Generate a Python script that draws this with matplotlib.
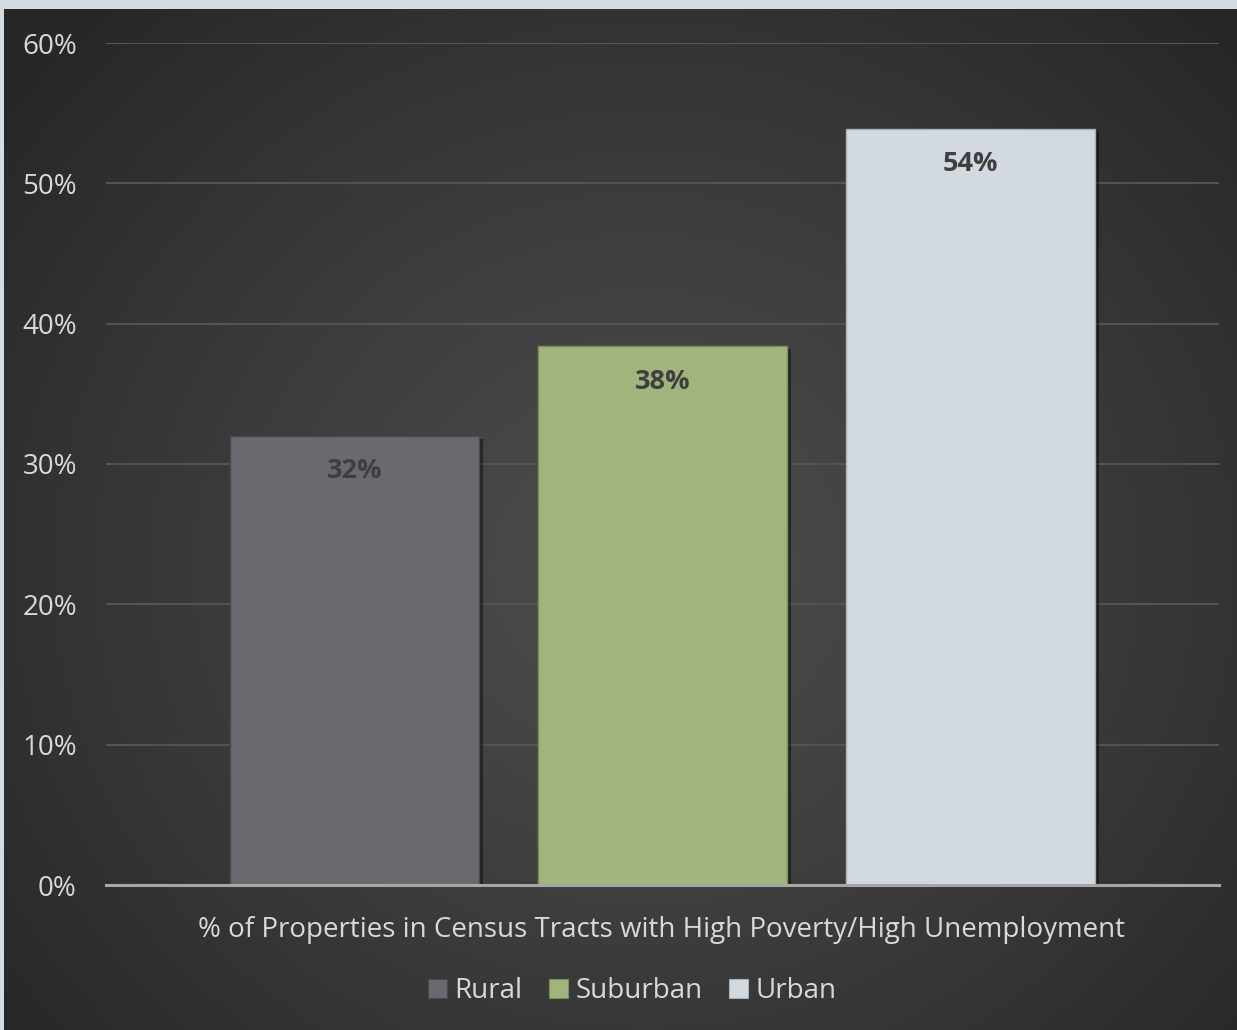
import numpy as np
import matplotlib
matplotlib.use("Agg")
import matplotlib.pyplot as plt
from matplotlib.patches import Patch
import matplotlib.patheffects as pe

# Data
categories = ["Rural", "Suburban", "Urban"]
values = [32.0, 38.4, 53.9]
colors = ["#6a696f", "#a1b47d", "#d2d9e1"]
edge_colors = ["#4a494e", "#7e8f5e", "#a8b0b8"]
yticks = [0, 10, 20, 30, 40, 50, 60]
xlabel = "% of Properties in Census Tracts with High Poverty/High Unemployment"

plt.rcParams["font.family"] = ["Open Sans", "DejaVu Sans"]
FS = 20

W, H = 1237, 1030
fig = plt.figure(figsize=(W / 100, H / 100), dpi=100)
fig.patch.set_facecolor("#d3dbe3")

# Dark panel with a soft radial glow
bg = fig.add_axes([4 / W, 0, 1 - 4 / W, (H - 9) / H])
bg.set_axis_off()
yy, xx = np.mgrid[0:H - 9, 0:W - 4]
cx, cy = 640, 560
r = np.sqrt(((xx - cx) / 820.0) ** 2 + ((yy - cy) / 760.0) ** 2)
t = np.clip(r, 0, 1) ** 1.2
c_in = np.array([0x4c, 0x4c, 0x4c]) / 255
c_out = np.array([0x27, 0x27, 0x27]) / 255
img = c_in[None, None, :] * (1 - t[..., None]) + c_out[None, None, :] * t[..., None]
bg.imshow(img, aspect="auto", extent=[0, 1, 0, 1], origin="upper")
bg.set_xlim(0, 1)
bg.set_ylim(0, 1)

ax = fig.add_axes([106 / W, (H - 885) / H, 1113 / W, (885 - 43) / H])
ax.set_facecolor("none")

x = np.arange(len(categories))
bars = ax.bar(x, values, width=0.808, color=colors, edgecolor=edge_colors,
              linewidth=1.0, zorder=3)
for b in bars:
    b.set_path_effects([pe.SimplePatchShadow(offset=(3, -2), shadow_rgbFace="black", alpha=0.45),
                        pe.Normal()])

for xi, v in zip(x, values):
    ax.annotate(f"{v:.0f}%", (xi, v), xytext=(0, -25.5), textcoords="offset points",
                ha="center", va="center", fontsize=19.5, fontweight="bold",
                color="#3f3f3f", zorder=5)

ax.set_xlim(-0.807, 2.807)
ax.set_ylim(0, 60)
ax.set_yticks(yticks)
ax.set_yticklabels([f"{t}%" for t in yticks])
ax.tick_params(axis="y", length=0, pad=21, labelsize=FS, labelcolor="#d9d9d9")
ax.set_xticks([])
ax.grid(axis="y", color="#535353", linewidth=1.5, zorder=0)
for s in ["top", "right", "left"]:
    ax.spines[s].set_visible(False)
ax.spines["bottom"].set_color("#a6a6a6")
ax.spines["bottom"].set_linewidth(2.2)
ax.spines["bottom"].set_zorder(4)

fig.text(662 / W, 1 - 930 / H, xlabel, ha="center", va="center",
         fontsize=FS, color="#d9d9d9")

handles = [Patch(facecolor=c, edgecolor=e, linewidth=0.8) for c, e in zip(colors, edge_colors)]
leg = fig.legend(handles, categories, loc="center", bbox_to_anchor=(632 / W, 1 - 991 / H),
                 ncol=3, frameon=False, fontsize=FS, handlelength=0.7, handleheight=0.7,
                 handletextpad=0.25, columnspacing=0.95)
for txt in leg.get_texts():
    txt.set_color("#d9d9d9")

fig.savefig("out.png", dpi=100, facecolor=fig.get_facecolor())
